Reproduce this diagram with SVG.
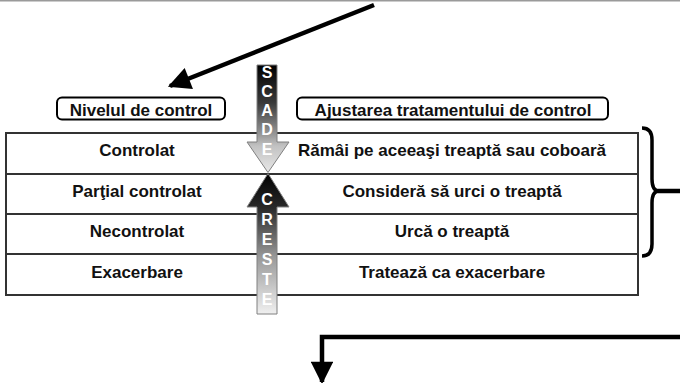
<svg xmlns="http://www.w3.org/2000/svg" width="680" height="383" viewBox="0 0 680 383">
<defs>
<style>
.t{font-family:"Liberation Sans",Arial,sans-serif;font-weight:bold;font-size:17px;fill:#111;text-anchor:middle}
.l{font-family:"Liberation Sans",Arial,sans-serif;font-weight:bold;font-size:16px;fill:#fff;text-anchor:middle}
.hb{fill:#fff;stroke:#000;stroke-width:2}
.row{fill:#fff;stroke:#333;stroke-width:2}
.conn{fill:none;stroke:#000;stroke-width:4.5}
</style>
<linearGradient id="gDown" gradientUnits="userSpaceOnUse" x1="0" y1="65" x2="0" y2="173">
<stop offset="0" stop-color="#000"/>
<stop offset="0.35" stop-color="#3a3a3a"/>
<stop offset="0.65" stop-color="#9a9a9a"/>
<stop offset="0.75" stop-color="#c2c2c2"/>
<stop offset="1" stop-color="#e8e8e8"/>
</linearGradient>
<linearGradient id="gUp" gradientUnits="userSpaceOnUse" x1="0" y1="173" x2="0" y2="314">
<stop offset="0" stop-color="#000"/>
<stop offset="0.25" stop-color="#2a2a2a"/>
<stop offset="0.6" stop-color="#9a9a9a"/>
<stop offset="1" stop-color="#f0f0f0"/>
</linearGradient>
<marker id="ah" viewBox="0 0 10 10" refX="9" refY="5" markerWidth="5.5" markerHeight="5" markerUnits="strokeWidth" orient="auto">
<path d="M0,0 L10,5 L0,10 Z" fill="#000"/>
</marker>
</defs>
<rect x="0" y="0" width="680" height="1.5" fill="#9a9a9a"/>

<g id="header-level">
<rect class="hb" x="57" y="97.5" width="168" height="22" rx="5"/>
<text class="t" x="141" y="116">Nivelul de control</text>
</g>
<g id="header-adjust">
<rect class="hb" x="297" y="97.5" width="311" height="22" rx="5"/>
<text class="t" x="453" y="116">Ajustarea tratamentului de control</text>
</g>

<g id="row-controlat">
<rect class="row" x="6" y="133" width="632" height="41"/>
<text class="t" x="137" y="156">Controlat</text>
<text class="t" x="452" y="156">Rămâi pe aceeaşi treaptă sau coboară</text>
</g>
<g id="row-partial">
<rect class="row" x="6" y="174" width="632" height="40"/>
<text class="t" x="137" y="197">Parţial controlat</text>
<text class="t" x="452" y="197">Consideră să urci o treaptă</text>
</g>
<g id="row-necontrolat">
<rect class="row" x="6" y="214" width="632" height="40"/>
<text class="t" x="137" y="237">Necontrolat</text>
<text class="t" x="452" y="237">Urcă o treaptă</text>
</g>
<g id="row-exacerbare">
<rect class="row" x="6" y="254" width="632" height="41"/>
<text class="t" x="137" y="278">Exacerbare</text>
<text class="t" x="452" y="278">Tratează ca exacerbare</text>
</g>

<g id="arrow-scade">
<path d="M257,65 H277 V142 H289 L268,172.5 L247,142 H257 Z" fill="url(#gDown)" stroke="#808080" stroke-width="1"/>
<text class="l" x="267" y="78">S</text>
<text class="l" x="267" y="97">C</text>
<text class="l" x="267" y="116">A</text>
<text class="l" x="267" y="135">D</text>
<text class="l" x="267" y="155">E</text>
</g>
<g id="arrow-creste">
<path d="M268,173.5 L289,207 H277 V314 H257 V207 H247 Z" fill="url(#gUp)" stroke="#808080" stroke-width="1"/>
<text class="l" x="267" y="205">C</text>
<text class="l" x="267" y="225">R</text>
<text class="l" x="267" y="245">E</text>
<text class="l" x="267" y="265">S</text>
<text class="l" x="267" y="285">T</text>
<text class="l" x="267" y="305">E</text>
</g>

<g id="brace">
<path d="M642,128 Q652,128 652,140 L652,179 Q652,191 659,191 Q652,191 652,203 L652,244 Q652,256 642,256" fill="none" stroke="#000" stroke-width="3.5"/>
</g>

<g id="connectors">
<line class="conn" x1="374" y1="5" x2="170" y2="86" marker-end="url(#ah)"/>
<line class="conn" x1="658" y1="191" x2="680" y2="191"/>
<polyline class="conn" points="680,337 322,337 322,382" marker-end="url(#ah)"/>
</g>
</svg>
